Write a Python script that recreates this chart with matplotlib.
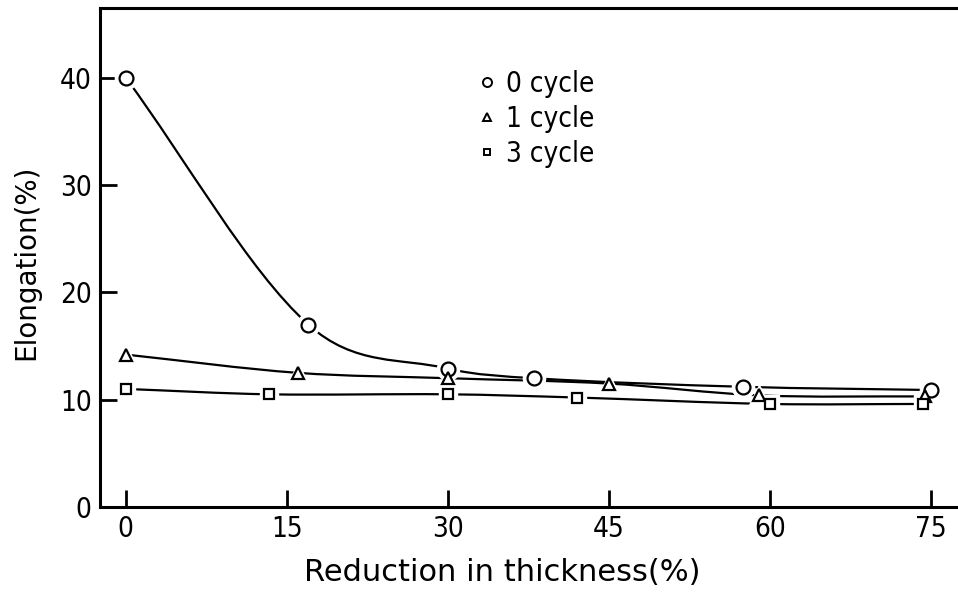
import matplotlib
matplotlib.use("Agg")
import matplotlib.pyplot as plt
from matplotlib.path import Path
from matplotlib.patches import PathPatch
from matplotlib.lines import Line2D

fontsize = 20
lfontsize = 20
plt.rcParams["font.family"] = ["DejaVu Sans"]
plt.rcParams["font.stretch"] = "condensed"

# values
x_0cycle = [0, 17, 30, 38, 57.5, 75]
y_0cycle = [40, 17, 12.9, 12.0, 11.2, 10.9]
x_1cycle = [0, 16, 30, 45, 59, 74.5]
y_1cycle = [14.2, 12.5, 12.0, 11.5, 10.4, 10.3]
x_3cycle = [0, 13.3, 30, 42, 60, 74.3]
y_3cycle = [11.0, 10.5, 10.5, 10.2, 9.6, 9.6]
labels = ["0 cycle", "1 cycle", "3 cycle"]
markers = ["o", "^", "s"]
msizes = [10, 8, 7.5]
xticks = [0, 15, 30, 45, 60, 75]
yticks = [0, 10, 20, 30, 40]


def smooth_path(xs, ys):
    # hand-drawn look: cubic Hermite through the points (y as function of x)
    n = len(xs)
    slopes = []
    for i in range(n):
        a, b = max(i - 1, 0), min(i + 1, n - 1)
        slopes.append((ys[b] - ys[a]) / (xs[b] - xs[a]))
    verts = [(xs[0], ys[0])]
    codes = [Path.MOVETO]
    for i in range(n - 1):
        h = xs[i + 1] - xs[i]
        verts += [(xs[i] + h / 3, ys[i] + slopes[i] * h / 3),
                  (xs[i + 1] - h / 3, ys[i + 1] - slopes[i + 1] * h / 3),
                  (xs[i + 1], ys[i + 1])]
        codes += [Path.CURVE4] * 3
    return Path(verts, codes)


fig = plt.figure(figsize=(9.58, 5.92), dpi=100)
ax = fig.add_axes([0.1044, 0.1436, 0.93, 0.843])

series = [(x_0cycle, y_0cycle), (x_1cycle, y_1cycle), (x_3cycle, y_3cycle)]
handles = []
for (xs, ys), m, ms, lab in zip(series, markers, msizes, labels):
    ax.add_patch(PathPatch(smooth_path(xs, ys), fill=False, lw=1.6,
                           ec="black", zorder=2))
    # white halo so the line stops short of each marker
    ax.plot(xs, ys, ls="none", marker=m, ms=ms + 6, mfc="white",
            mec="white", zorder=3)
    ax.plot(xs, ys, ls="none", marker=m, ms=ms, mfc="white",
            mec="black", mew=1.6, zorder=4)
    handles.append(Line2D([], [], ls="none", marker=m, ms=ms * 0.65,
                          mfc="white", mec="black", mew=1.4, label=lab))

ax.set_xlim(-2.4, 80.6)
ax.set_ylim(0, 46.5)
ax.set_xticks(xticks)
ax.set_yticks(yticks)
ax.tick_params(direction="in", length=12, width=2, labelsize=fontsize, pad=6)

for s in ["left", "bottom", "top"]:
    ax.spines[s].set_linewidth(2.2)
ax.spines["right"].set_visible(False)

ax.set_xlabel("Reduction in thickness(%)", fontsize=22, fontstretch="normal")
ax.set_ylabel("Elongation(%)", fontsize=20, fontstretch="normal")
ax.xaxis.set_label_coords(0.451, -0.102)
ax.yaxis.set_label_coords(-0.067, 0.49)

ax.legend(handles=handles, loc="upper left", bbox_to_anchor=(0.409, 0.904),
          frameon=False, fontsize=lfontsize, handlelength=0.6,
          handletextpad=0.4, labelspacing=0.25, borderpad=0)

fig.savefig("out.png", dpi=100)
